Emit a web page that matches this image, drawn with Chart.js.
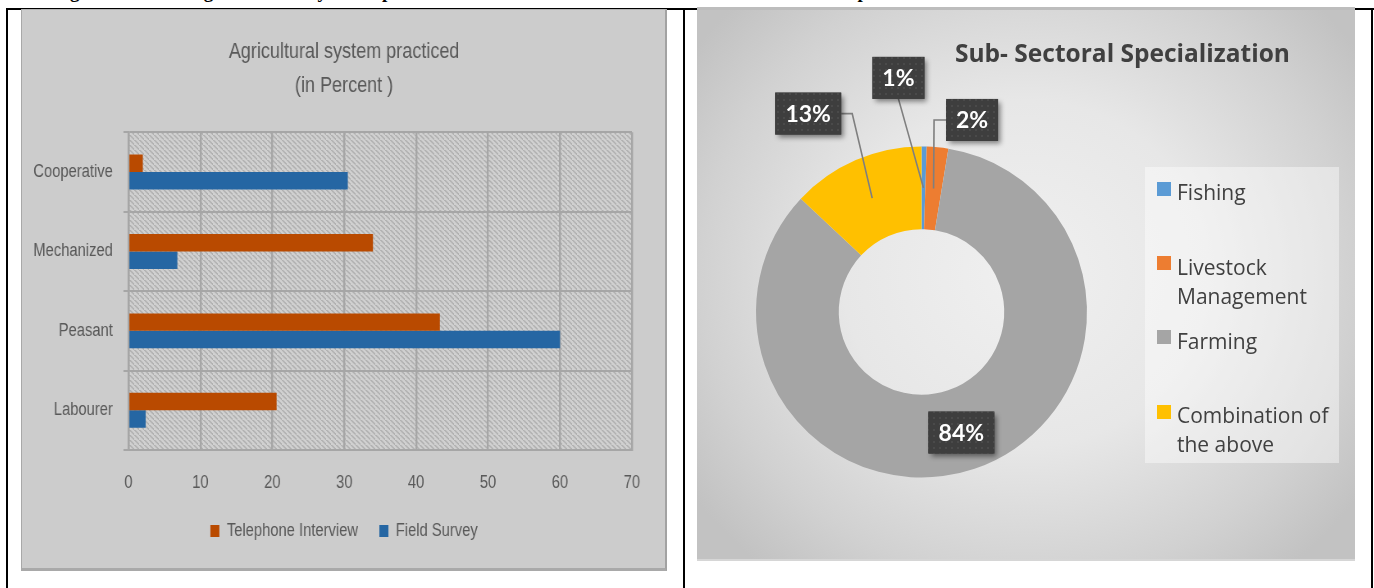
<!DOCTYPE html>
<html>
<head>
<meta charset="utf-8">
<script src="https://cdn.jsdelivr.net/npm/chart.js@4.4.1/dist/chart.umd.min.js"></script>
<style>
html,body{margin:0;padding:0;background:#fff;width:1374px;height:588px;overflow:hidden;position:relative}
.hw{position:absolute;top:-18px;font:bold 19px "Liberation Serif","Times New Roman",serif;line-height:20px;color:#000;white-space:nowrap}
.ln{position:absolute;background:#000}
#leftPanel{position:absolute;left:21px;top:9px;width:646px;height:562px;box-sizing:border-box;background:#cccccc;
  border-top:1px solid #b3b3b3;border-left:1px solid #a8a8a8;border-right:2px solid #a2a2a2;border-bottom:3px solid #a9a9a9}
#rightPanel{position:absolute;left:697px;top:7px;width:658px;height:554px;box-sizing:border-box;
  background:radial-gradient(ellipse 62% 70% at 50% 48%, #f0f0f0 0%, #e7e7e7 45%, #d1d1d1 80%, #c2c2c2 100%);
  border-top:3px solid #bdbdbd;border-bottom:2px solid #d6d6d6}
#barChart{position:absolute;left:21px;top:10px;transform:scaleX(0.82);transform-origin:0 0}
#pieChart{position:absolute;left:697px;top:7px}
#pieTitle{position:absolute;left:955px;top:36px;font:bold 24.5px "Open Sans",Lato,sans-serif;color:#404040;white-space:nowrap;line-height:34px}
#pieLegend{position:absolute;left:1145px;top:167px;width:194px;height:296px;background:rgba(255,255,255,0.42)}
.li{position:absolute;left:0;width:194px}
.sw{position:absolute;left:12px;top:0;width:14px;height:14px}
.lt{position:absolute;left:32px;top:-3.5px;width:160px;font:21px "Open Sans",sans-serif;line-height:29px;color:#404040}
</style>
</head>
<body>
<!-- clipped caption of the document above the table -->
<span class="hw" style="left:53px">Figure</span>
<span class="hw" style="left:90px">4.1:</span>
<span class="hw" style="left:190px">Agricultural</span>
<span class="hw" style="left:307px">System</span>
<span class="hw" style="left:382px">practiced</span>
<span class="hw" style="left:470px">and</span>
<span class="hw" style="left:847px">Specialization</span>

<!-- table borders -->
<div class="ln" style="left:6px;top:8px;width:1368px;height:2px"></div>
<div class="ln" style="left:6px;top:8px;width:2px;height:580px"></div>
<div class="ln" style="left:683px;top:8px;width:2px;height:580px"></div>
<div class="ln" style="left:1371px;top:8px;width:2px;height:580px"></div>

<div id="leftPanel"></div>
<div id="rightPanel"></div>
<canvas id="barChart" width="788" height="560"></canvas>
<canvas id="pieChart" width="658" height="554"></canvas>
<div id="pieTitle">Sub- Sectoral Specialization</div>
<div id="pieLegend"></div>

<script>
// ---------- data ----------
const categories = ['Cooperative', 'Mechanized', 'Peasant', 'Labourer'];
const seriesNames = ['Telephone Interview', 'Field Survey'];
const telephoneInterview = [2, 34, 43.3, 20.6];
const fieldSurvey = [30.5, 6.8, 60, 2.4];
const xTicks = [0, 10, 20, 30, 40, 50, 60, 70];
const barTitle = ['Agricultural system practiced', '(in Percent )'];

const sectors = ['Fishing', 'Livestock Management', 'Farming', 'Combination of the above'];
const sectorShares = [0.5, 2.1, 84.4, 13.0];
const pieTitleText = 'Sub- Sectoral Specialization';

// ---------- styles ----------
// the bar chart canvas is drawn wide and squeezed horizontally (like the original, a compressed Excel chart)
const SANS = '"Liberation Sans", Arial, sans-serif';
const TXT = '#595959';
const GRID = '#a6a6a6';
const barColors = ['#B94A00', '#2566A3'];
const sectorColors = ['#5B9BD5', '#ED7D31', '#A5A5A5', '#FFC000'];

// hatch background for the plot area
const hatchPlugin = {
  id: 'hatch',
  beforeDraw(chart) {
    const {ctx, chartArea: a} = chart;
    const c = document.createElement('canvas');
    c.width = 6; c.height = 5;
    const x = c.getContext('2d');
    x.fillStyle = '#d0d0d0'; x.fillRect(0, 0, 6, 5);
    x.fillStyle = '#b1b1b1';
    for (let i = 0; i < 5; i++) { x.fillRect(i * 1.2, i, 2.4, 1); }
    ctx.save();
    ctx.fillStyle = ctx.createPattern(c, 'repeat');
    ctx.fillRect(a.left, a.top, a.right - a.left, a.bottom - a.top);
    ctx.restore();
  }
};

new Chart(document.getElementById('barChart'), {
  type: 'bar',
  data: {
    labels: categories,
    datasets: [
      {label: seriesNames[0], data: telephoneInterview, backgroundColor: barColors[0]},
      {label: seriesNames[1], data: fieldSurvey, backgroundColor: barColors[1]}
    ]
  },
  options: {
    indexAxis: 'y',
    responsive: false,
    animation: false,
    categoryPercentage: 0.44,
    barPercentage: 1,
    layout: {padding: {left: 0, right: 0, top: 0, bottom: 20}},
    plugins: {
      title: {
        display: true, text: barTitle, color: TXT,
        font: {family: SANS, size: 22, weight: 'normal', lineHeight: 34 / 22},
        padding: {top: 25, bottom: 29.3}
      },
      legend: {
        position: 'bottom',
        labels: {color: TXT, font: {family: SANS, size: 18}, boxWidth: 11, boxHeight: 12, padding: 26}
      },
      tooltip: {enabled: false}
    },
    scales: {
      x: {
        min: 0, max: 70,
        afterBuildTicks: s => { s.ticks = xTicks.map(v => ({value: v})); },
        afterFit: s => { s.height = 46; },
        grid: {color: GRID, lineWidth: 2.4, drawTicks: false},
        border: {color: GRID, width: 2},
        ticks: {color: TXT, font: {family: SANS, size: 18}, padding: 22}
      },
      y: {
        afterFit: s => { s.width = 131; },
        grid: {color: GRID, lineWidth: 2, offset: true, drawTicks: true, tickLength: 6},
        border: {color: GRID, width: 2.4},
        ticks: {color: TXT, font: {family: SANS, size: 18}, padding: 13}
      },
      // empty right-hand margin so the title and legend stay centred on the panel
      margin: {
        type: 'linear', axis: 'y', position: 'right',
        afterFit: s => { s.width = 43; },
        grid: {display: false}, border: {display: false}, ticks: {display: false}
      }
    }
  },
  plugins: [hatchPlugin]
});

// ---------- doughnut ----------
// label box placement relative to each slice's centroid, and leader style
const labelPlacement = [
  {dx: -25, dy: -110, leader: 'bottom'},
  {dx: 38.5, dy: -68.5, leader: 'left'},
  {dx: 0, dy: 3, leader: null},
  {dx: -64, dy: -84.5, leader: 'right'}
];

const calloutPlugin = {
  id: 'callouts',
  afterDatasetsDraw(chart) {
    const {ctx} = chart;
    const meta = chart.getDatasetMeta(0);
    const vals = chart.data.datasets[0].data;
    const pc = document.createElement('canvas');
    pc.width = 6; pc.height = 6;
    const px = pc.getContext('2d');
    px.fillStyle = '#3e3e3e'; px.fillRect(0, 0, 6, 6);
    px.fillStyle = '#4a4a4a'; px.fillRect(2, 2, 2, 2);
    const pat = ctx.createPattern(pc, 'repeat');
    ctx.save();
    ctx.font = 'bold 23px Lato, "Open Sans", sans-serif';
    meta.data.forEach((arc, i) => {
      const p = arc.getCenterPoint();
      const pl = labelPlacement[i];
      const text = Math.round(vals[i]) + '%';
      const w = Math.round(ctx.measureText(text).width + 20);
      const h = 42;
      const bx = p.x + pl.dx, by = p.y + pl.dy;
      if (pl.leader) {
        ctx.strokeStyle = '#7f7f7f';
        ctx.lineWidth = 1.6;
        ctx.beginPath();
        if (pl.leader === 'bottom') { ctx.moveTo(bx, by + h / 2); }
        else if (pl.leader === 'left') { ctx.moveTo(bx - w / 2, by); ctx.lineTo(bx - w / 2 - 12, by); }
        else { ctx.moveTo(bx + w / 2, by); ctx.lineTo(bx + w / 2 + 11, by); }
        ctx.lineTo(p.x, p.y);
        ctx.stroke();
      }
      ctx.save();
      ctx.shadowColor = 'rgba(0,0,0,0.45)';
      ctx.shadowBlur = 5; ctx.shadowOffsetX = 3; ctx.shadowOffsetY = 3;
      ctx.fillStyle = '#3e3e3e';
      ctx.fillRect(bx - w / 2, by - h / 2, w, h);
      ctx.restore();
      ctx.fillStyle = pat;
      ctx.fillRect(bx - w / 2, by - h / 2, w, h);
      ctx.fillStyle = '#ffffff';
      ctx.textAlign = 'center';
      ctx.textBaseline = 'middle';
      ctx.fillText(text, bx, by + 1);
    });
    ctx.restore();
  }
};

new Chart(document.getElementById('pieChart'), {
  type: 'doughnut',
  data: {
    labels: sectors,
    datasets: [{data: sectorShares, backgroundColor: sectorColors, borderWidth: 0, offset: 0, hoverOffset: 0}]
  },
  options: {
    responsive: false,
    animation: false,
    cutout: '50%',
    layout: {padding: {left: 58.5, top: 139.5, right: 267.5, bottom: 83.5}},
    plugins: {legend: {display: false}, title: {display: false}, tooltip: {enabled: false}}
  },
  plugins: [calloutPlugin]
});

// HTML legend built from the doughnut data
document.getElementById('pieTitle').textContent = pieTitleText;
const lg = document.getElementById('pieLegend');
const itemTops = [14.7, 89, 163.3, 237.5];
sectors.forEach((name, i) => {
  const d = document.createElement('div');
  d.className = 'li';
  d.style.top = itemTops[i] + 'px';
  d.innerHTML = '<div class="sw" style="background:' + sectorColors[i] + '"></div><div class="lt">' + name + '</div>';
  lg.appendChild(d);
});
</script>
</body>
</html>
